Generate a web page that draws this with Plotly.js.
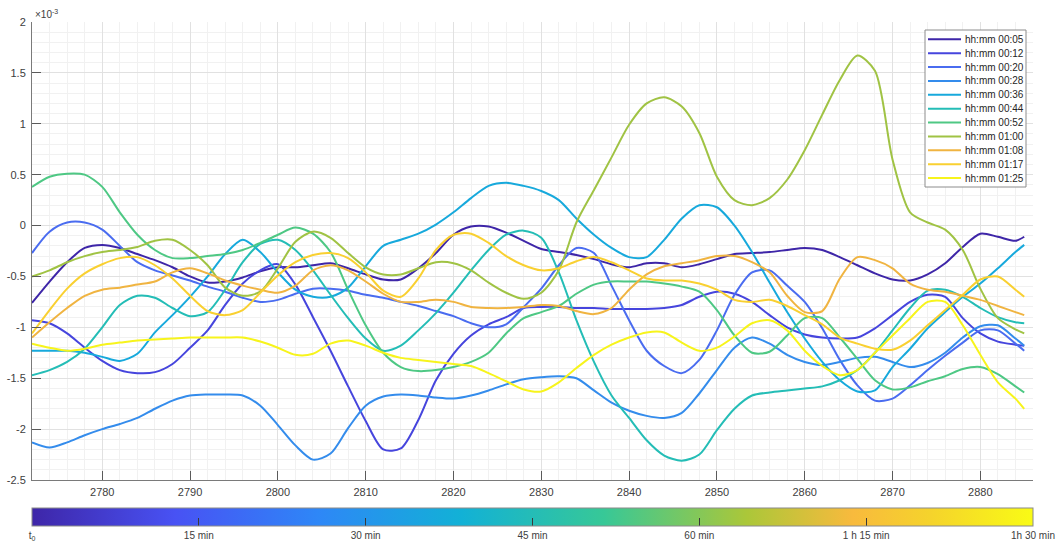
<!DOCTYPE html>
<html>
<head>
<meta charset="utf-8">
<script src="https://cdn.plot.ly/plotly-3.0.1.min.js"></script>
<style>
  html, body { margin: 0; padding: 0; background: #ffffff; }
  #chart { width: 1058px; height: 550px; }
</style>
</head>
<body>
<div id="chart"></div>
<script>
// Sample positions shared by every profile
const xSamples = [2772,2774,2776,2778,2780,2782,2784,2786,2788,2790,
  2792,2794,2796,2798,2800,2802,2804,2806,2808,2810,
  2812,2814,2816,2818,2820,2822,2824,2826,2828,2830,
  2832,2834,2836,2838,2840,2842,2844,2846,2848,2850,
  2852,2854,2856,2858,2860,2862,2864,2866,2868,2870,
  2872,2874,2876,2878,2880,2882,2884,2885];

// Profile values, in units of 1e-3
const p0005 = [-0.76,-0.55,-0.36,-0.22,-0.19,-0.22,-0.28,-0.34,-0.41,-0.50,
  -0.56,-0.55,-0.51,-0.45,-0.41,-0.41,-0.39,-0.37,-0.42,-0.48,
  -0.53,-0.53,-0.42,-0.27,-0.09,-0.01,-0.01,-0.07,-0.15,-0.23,
  -0.26,-0.29,-0.33,-0.38,-0.41,-0.37,-0.37,-0.41,-0.38,-0.33,
  -0.28,-0.27,-0.26,-0.24,-0.22,-0.24,-0.31,-0.39,-0.47,-0.53,
  -0.54,-0.48,-0.37,-0.21,-0.08,-0.11,-0.15,-0.11];
const p0012 = [-0.93,-0.96,-1.06,-1.20,-1.33,-1.42,-1.45,-1.44,-1.36,-1.20,
  -1.03,-0.78,-0.57,-0.44,-0.38,-0.58,-0.90,-1.23,-1.58,-1.92,
  -2.20,-2.19,-1.91,-1.52,-1.26,-1.08,-0.97,-0.90,-0.81,-0.80,
  -0.80,-0.81,-0.81,-0.82,-0.82,-0.82,-0.81,-0.78,-0.70,-0.65,
  -0.67,-0.75,-0.88,-1.00,-1.07,-1.10,-1.11,-1.10,-1.01,-0.88,
  -0.75,-0.68,-0.70,-0.91,-1.06,-1.14,-1.17,-1.18];
const p0020 = [-0.27,-0.06,0.03,0.03,-0.04,-0.20,-0.36,-0.44,-0.49,-0.54,
  -0.60,-0.65,-0.71,-0.75,-0.73,-0.67,-0.62,-0.62,-0.64,-0.68,
  -0.71,-0.75,-0.79,-0.84,-0.89,-0.96,-1.00,-0.97,-0.80,-0.62,
  -0.39,-0.22,-0.27,-0.59,-0.93,-1.23,-1.38,-1.45,-1.32,-1.03,
  -0.68,-0.46,-0.44,-0.59,-0.75,-1.01,-1.32,-1.57,-1.72,-1.70,
  -1.57,-1.42,-1.28,-1.15,-1.03,-1.03,-1.16,-1.23];
const p0028 = [-2.13,-2.18,-2.13,-2.06,-2.00,-1.95,-1.89,-1.80,-1.72,-1.67,
  -1.66,-1.66,-1.67,-1.77,-1.96,-2.16,-2.30,-2.24,-1.99,-1.77,
  -1.68,-1.66,-1.67,-1.69,-1.70,-1.67,-1.62,-1.56,-1.51,-1.49,
  -1.48,-1.50,-1.62,-1.74,-1.82,-1.87,-1.89,-1.84,-1.65,-1.42,
  -1.20,-1.10,-1.16,-1.27,-1.34,-1.37,-1.34,-1.30,-1.29,-1.34,
  -1.39,-1.35,-1.25,-1.10,-0.99,-0.98,-1.11,-1.18];
const p0036 = [-1.23,-1.23,-1.23,-1.25,-1.29,-1.33,-1.26,-1.05,-0.88,-0.70,
  -0.50,-0.28,-0.14,-0.26,-0.46,-0.63,-0.70,-0.70,-0.61,-0.40,
  -0.20,-0.14,-0.08,0.01,0.13,0.27,0.39,0.42,0.39,0.34,
  0.25,0.07,-0.09,-0.22,-0.31,-0.31,-0.14,0.07,0.20,0.18,
  0.00,-0.26,-0.56,-0.85,-1.11,-1.34,-1.52,-1.63,-1.62,-1.39,
  -1.21,-1.01,-0.85,-0.70,-0.57,-0.42,-0.26,-0.19];
const p0044 = [-1.47,-1.42,-1.34,-1.21,-1.00,-0.78,-0.69,-0.71,-0.81,-0.89,
  -0.85,-0.63,-0.36,-0.18,-0.14,-0.24,-0.44,-0.68,-0.91,-1.11,
  -1.23,-1.18,-1.03,-0.86,-0.66,-0.44,-0.24,-0.09,-0.05,-0.12,
  -0.46,-0.93,-1.34,-1.67,-1.89,-2.11,-2.26,-2.31,-2.25,-2.01,
  -1.80,-1.67,-1.64,-1.62,-1.60,-1.58,-1.52,-1.42,-1.25,-1.03,
  -0.81,-0.64,-0.63,-0.70,-0.81,-0.90,-0.95,-0.96];
const p0052 = [0.38,0.48,0.51,0.50,0.38,0.13,-0.09,-0.24,-0.32,-0.32,
  -0.30,-0.28,-0.24,-0.17,-0.09,-0.02,-0.08,-0.26,-0.63,-0.98,
  -1.25,-1.39,-1.43,-1.42,-1.39,-1.34,-1.25,-1.06,-0.91,-0.85,
  -0.79,-0.67,-0.58,-0.55,-0.55,-0.55,-0.57,-0.60,-0.65,-0.83,
  -1.08,-1.25,-1.24,-1.08,-0.91,-0.91,-1.10,-1.31,-1.52,-1.61,
  -1.59,-1.53,-1.48,-1.41,-1.39,-1.46,-1.58,-1.64];
const p0100 = [-0.50,-0.44,-0.36,-0.30,-0.26,-0.24,-0.21,-0.15,-0.14,-0.24,
  -0.39,-0.61,-0.69,-0.65,-0.42,-0.16,-0.06,-0.12,-0.27,-0.41,
  -0.48,-0.48,-0.42,-0.36,-0.37,-0.44,-0.56,-0.66,-0.72,-0.66,
  -0.44,0.03,0.35,0.67,0.99,1.20,1.26,1.17,0.91,0.48,
  0.25,0.20,0.27,0.45,0.74,1.09,1.43,1.67,1.52,0.65,
  0.13,0.03,-0.04,-0.24,-0.62,-0.91,-1.02,-1.06];
const p0108 = [-1.10,-0.95,-0.81,-0.69,-0.63,-0.61,-0.58,-0.55,-0.46,-0.42,
  -0.47,-0.54,-0.59,-0.63,-0.66,-0.59,-0.44,-0.39,-0.44,-0.55,
  -0.67,-0.75,-0.75,-0.73,-0.75,-0.80,-0.81,-0.81,-0.80,-0.78,
  -0.79,-0.84,-0.87,-0.81,-0.63,-0.48,-0.40,-0.37,-0.34,-0.30,
  -0.30,-0.36,-0.46,-0.69,-0.85,-0.84,-0.52,-0.31,-0.34,-0.42,
  -0.57,-0.63,-0.65,-0.69,-0.73,-0.79,-0.85,-0.88];
const p0117 = [-1.06,-0.83,-0.62,-0.47,-0.38,-0.32,-0.31,-0.39,-0.52,-0.69,
  -0.84,-0.88,-0.83,-0.66,-0.49,-0.36,-0.29,-0.27,-0.32,-0.46,
  -0.64,-0.70,-0.52,-0.24,-0.09,-0.08,-0.17,-0.30,-0.39,-0.44,
  -0.42,-0.35,-0.31,-0.36,-0.44,-0.52,-0.54,-0.54,-0.57,-0.63,
  -0.73,-0.75,-0.73,-0.79,-0.88,-0.97,-1.10,-1.16,-1.21,-1.22,
  -1.13,-0.98,-0.83,-0.68,-0.53,-0.50,-0.63,-0.70];
const p0125 = [-1.16,-1.20,-1.23,-1.21,-1.17,-1.15,-1.13,-1.12,-1.11,-1.10,
  -1.10,-1.10,-1.10,-1.14,-1.20,-1.27,-1.26,-1.16,-1.13,-1.18,
  -1.25,-1.30,-1.32,-1.34,-1.36,-1.38,-1.45,-1.53,-1.61,-1.63,
  -1.54,-1.40,-1.27,-1.17,-1.10,-1.05,-1.05,-1.15,-1.23,-1.20,
  -1.09,-0.96,-0.93,-1.03,-1.23,-1.38,-1.47,-1.42,-1.25,-1.08,
  -0.91,-0.75,-0.75,-0.98,-1.27,-1.54,-1.70,-1.80];

const seriesNames = ['hh:mm 00:05','hh:mm 00:12','hh:mm 00:20','hh:mm 00:28','hh:mm 00:36',
  'hh:mm 00:44','hh:mm 00:52','hh:mm 01:00','hh:mm 01:08','hh:mm 01:17','hh:mm 01:25'];
const seriesValues = [p0005,p0012,p0020,p0028,p0036,p0044,p0052,p0100,p0108,p0117,p0125];
const seriesColors = ['#3e26a8','#4645dd','#4a6cf0','#348cec','#17a9dc','#24bdb6',
  '#4ec884','#a0c344','#f0b441','#f9d031','#f7f41c'];

// Axis ticks
const xRange = [2772, 2886];
const xTicks = [2780,2790,2800,2810,2820,2830,2840,2850,2860,2870,2880];
const yRange = [-2.5, 2];
const yTicks = [-2.5,-2,-1.5,-1,-0.5,0,0.5,1,1.5,2];
const yTickText = ['-2.5','-2','-1.5','-1','-0.5','0','0.5','1','1.5','2'];

// Elapsed-time colour bar
const cbRange = [0, 90];
const cbTickVals = [0, 15, 30, 45, 60, 75, 90];
const cbTickText = ['t<sub>0</sub>','15 min','30 min','45 min','60 min','1 h 15 min','1h 30 min'];
const parula = [
  [0.000,'#3e26a8'],[0.143,'#4852f4'],[0.286,'#2e87f7'],[0.429,'#12b1d6'],
  [0.571,'#37c897'],[0.714,'#abc739'],[0.820,'#f8ba3d'],[0.900,'#f5d42b'],[1.000,'#f9fb15']
];

// Page geometry (pixels)
const W = 1058, H = 550;
const plotL = 32, plotT = 22, plotR = 1033, plotB = 480;
const px2x = p => (p - plotL) / (plotR - plotL);
const px2y = p => (plotB - p) / (plotB - plotT);

const fontFamily = 'Liberation Sans, Arial, Helvetica, sans-serif';
const textColor = '#404040';

const traces = seriesValues.map((vals, i) => ({
  type: 'scatter', mode: 'lines', x: xSamples, y: vals, name: seriesNames[i],
  line: { color: seriesColors[i], width: 2, shape: 'spline', smoothing: 0.8 },
  hoverinfo: 'x+y+name', showlegend: false
}));

// Colour bar carrier (no visible points)
traces.push({
  type: 'scatter', mode: 'markers', x: [null], y: [null], showlegend: false, hoverinfo: 'skip',
  marker: {
    color: cbRange, cmin: cbRange[0], cmax: cbRange[1], colorscale: parula, showscale: true,
    colorbar: {
      orientation: 'h', x: 0.5, xanchor: 'center', y: px2y(508), yanchor: 'top',
      len: 1, lenmode: 'fraction', thickness: 18, thicknessmode: 'pixels',
      xpad: 0, ypad: 0, outlinewidth: 1, outlinecolor: '#8a8a8a',
      tickmode: 'array', tickvals: cbTickVals, ticktext: cbTickText,
      ticks: 'inside', ticklen: 8, tickwidth: 1, tickcolor: '#3a3a3a',
      ticklabelstandoff: 2,
      tickfont: { family: fontFamily, size: 10, color: textColor }
    }
  }
});

// Legend box drawn as shapes and text
const shapes = [];
const annotations = [];
const legTop = 39.3, legStep = 13.87;
shapes.push({ type: 'rect', xref: 'paper', yref: 'paper',
  x0: px2x(925), x1: px2x(1026), y0: px2y(30), y1: px2y(187),
  line: { color: '#8c8c8c', width: 1 }, fillcolor: '#ffffff', layer: 'above' });
seriesNames.forEach((nm, i) => {
  const py = legTop + i * legStep;
  shapes.push({ type: 'line', xref: 'paper', yref: 'paper',
    x0: px2x(928), x1: px2x(961), y0: px2y(py), y1: px2y(py),
    line: { color: seriesColors[i], width: 2 }, layer: 'above' });
  annotations.push({ xref: 'paper', yref: 'paper', x: px2x(963), y: px2y(py),
    xanchor: 'left', yanchor: 'middle', showarrow: false, text: nm,
    font: { family: fontFamily, size: 10, color: '#262626' } });
});

// Exponent label above the y axis
annotations.push({ xref: 'paper', yref: 'paper', x: px2x(33), y: px2y(14),
  xanchor: 'left', yanchor: 'middle', showarrow: false, text: '\u00d710<sup>-3</sup>',
  font: { family: fontFamily, size: 10, color: textColor } });

const axisCommon = {
  showline: true, linecolor: '#7a7a7a', linewidth: 1, mirror: false,
  ticks: 'inside', ticklen: 9, tickwidth: 1, tickcolor: '#5a5a5a',
  showgrid: true, gridcolor: '#e1e1e1', gridwidth: 1, zeroline: false,
  tickfont: { family: fontFamily, size: 11, color: textColor },
  fixedrange: true
};

const layout = {
  width: W, height: H,
  margin: { l: plotL, r: W - plotR, t: plotT, b: H - plotB, pad: 0, autoexpand: false },
  paper_bgcolor: '#ffffff', plot_bgcolor: '#ffffff',
  showlegend: false,
  xaxis: Object.assign({}, axisCommon, {
    range: xRange, tickmode: 'array', tickvals: xTicks, ticklabelstandoff: 2,
    minor: { tick0: 2780, dtick: 2, showgrid: true, gridcolor: '#f1f1f1', gridwidth: 1 }
  }),
  yaxis: Object.assign({}, axisCommon, {
    range: yRange, tickmode: 'array', tickvals: yTicks, ticktext: yTickText, ticklabelstandoff: 3,
    minor: { tick0: 0, dtick: 0.1, showgrid: true, gridcolor: '#f1f1f1', gridwidth: 1 }
  }),
  shapes: shapes,
  annotations: annotations
};

Plotly.newPlot('chart', traces, layout, { staticPlot: true, displayModeBar: false });
</script>
</body>
</html>
